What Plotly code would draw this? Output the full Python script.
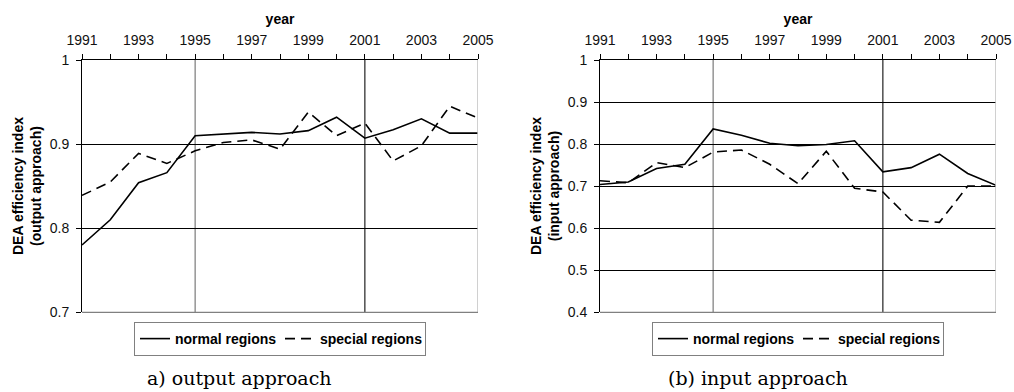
import plotly.graph_objects as go

years = list(range(1991, 2006))
out_normal = [0.780, 0.810, 0.854, 0.866, 0.910, 0.912, 0.914, 0.912, 0.916, 0.932, 0.907, 0.917, 0.930, 0.913, 0.913]
out_special = [0.839, 0.855, 0.889, 0.877, 0.892, 0.902, 0.905, 0.894, 0.938, 0.910, 0.925, 0.880, 0.898, 0.945, 0.931]
in_normal = [0.704, 0.710, 0.742, 0.752, 0.836, 0.821, 0.802, 0.796, 0.799, 0.808, 0.734, 0.744, 0.776, 0.730, 0.702]
in_special = [0.713, 0.708, 0.756, 0.744, 0.781, 0.786, 0.752, 0.706, 0.783, 0.695, 0.686, 0.619, 0.614, 0.700, 0.700]

year_ticks = years
year_labels = [str(y) if y % 2 == 1 else "" for y in years]
out_ticks = [0.7, 0.8, 0.9, 1.0]
out_labels = ["0.7", "0.8", "0.9", "1"]
in_ticks = [0.4, 0.5, 0.6, 0.7, 0.8, 0.9, 1.0]
in_labels = ["0.4", "0.5", "0.6", "0.7", "0.8", "0.9", "1"]
period_marks = [1995, 2001]

FONT = "Liberation Sans, Arial, sans-serif"
W, H = 1014, 392

def px(x):
    return x / W

def py(y):
    return 1 - y / H

ydom = [py(312.3), py(60)]
left_dom = [px(82), px(478)]
right_dom = [px(600), px(996)]

fig = go.Figure()
line_w = 1.6
fig.add_trace(go.Scatter(x=years, y=out_normal, mode="lines", name="<b>normal regions</b>",
                         line=dict(color="black", width=line_w), xaxis="x", yaxis="y", legend="legend"))
fig.add_trace(go.Scatter(x=years, y=out_special, mode="lines", name="<b>special regions</b>",
                         line=dict(color="black", width=line_w, dash="10px,6px"), xaxis="x", yaxis="y", legend="legend"))
fig.add_trace(go.Scatter(x=years, y=in_normal, mode="lines", name="<b>normal regions</b>",
                         line=dict(color="black", width=line_w), xaxis="x2", yaxis="y2", legend="legend2"))
fig.add_trace(go.Scatter(x=years, y=in_special, mode="lines", name="<b>special regions</b>",
                         line=dict(color="black", width=line_w, dash="10px,6px"), xaxis="x2", yaxis="y2", legend="legend2"))

def xax(dom, anchor):
    return dict(domain=dom, anchor=anchor, side="top", range=[1991, 2005], automargin=False,
                tickvals=year_ticks, ticktext=year_labels, ticks="outside", ticklen=5,
                tickcolor="black", showline=True, linecolor="black", linewidth=1,
                showgrid=False, zeroline=False, ticklabelstandoff=3,
                tickfont=dict(family=FONT, size=14, color="#111"),
                title=dict(text="<b>year</b>", font=dict(family=FONT, size=14, color="black"), standoff=4))

def yax(rng, tv, tt, anchor):
    return dict(domain=ydom, anchor=anchor, range=rng, tickvals=tv, ticktext=tt, automargin=False,
                ticks="outside", ticklen=5, tickcolor="black", showline=True, linecolor="black",
                linewidth=1, showgrid=True, gridcolor="black", gridwidth=1, zeroline=False,
                ticklabelstandoff=4, tickfont=dict(family=FONT, size=14, color="#111"))

shapes = []
for xr, yr in [("x", "y"), ("x2", "y2")]:
    for i, yv in enumerate(period_marks):
        shapes.append(dict(type="line", xref=xr, yref=f"{yr} domain", x0=yv, x1=yv, y0=0, y1=1,
                           line=dict(color="#7a7a7a" if i == 0 else "#222", width=1.2), layer="below"))
    shapes.append(dict(type="line", xref=xr, yref=f"{yr} domain", x0=2005, x1=2005, y0=0, y1=1,
                       line=dict(color="#c0c0c0", width=1.5), layer="above"))
    shapes.append(dict(type="line", xref=f"{xr} domain", yref=f"{yr} domain", x0=0, x1=1, y0=0, y1=0,
                       line=dict(color="#808080", width=1.2), layer="above"))

legend_common = dict(orientation="h", yanchor="middle", xanchor="center", y=py(339),
                     bgcolor="white", bordercolor="#808080", borderwidth=1,
                     font=dict(family=FONT, size=14, color="black"), itemwidth=30,
                     tracegroupgap=0, itemclick=False, entrywidth=100, entrywidthmode="pixels")

fig.update_layout(
    template="none",
    width=W, height=H, margin=dict(l=0, r=0, t=0, b=0, autoexpand=False),
    plot_bgcolor="white", paper_bgcolor="white",
    xaxis=xax(left_dom, "y"), yaxis=yax([0.7, 1.0], out_ticks, out_labels, "x"),
    xaxis2=xax(right_dom, "y2"), yaxis2=yax([0.4, 1.0], in_ticks, in_labels, "x2"),
    legend=dict(**legend_common, x=px(280)),
    legend2=dict(**legend_common, x=px(798)),
    shapes=shapes,
    annotations=[
        dict(text="<b>DEA efficiency index<br>(output approach)</b>", textangle=-90, x=px(27), y=py(186),
             xref="paper", yref="paper", showarrow=False, xanchor="center", yanchor="middle",
             font=dict(family=FONT, size=14, color="black")),
        dict(text="<b>DEA efficiency index<br>(input approach)</b>", textangle=-90, x=px(545), y=py(186),
             xref="paper", yref="paper", showarrow=False, xanchor="center", yanchor="middle",
             font=dict(family=FONT, size=14, color="black")),
        dict(text="a) output approach", x=px(239), y=py(378), xref="paper", yref="paper",
             showarrow=False, xanchor="center", yanchor="middle",
             font=dict(family="DejaVu Serif, serif", size=19, color="black")),
        dict(text="(b) input approach", x=px(758), y=py(378), xref="paper", yref="paper",
             showarrow=False, xanchor="center", yanchor="middle",
             font=dict(family="DejaVu Serif, serif", size=19, color="black")),
    ],
    showlegend=True,
)

fig.write_html("out.html", config={"displayModeBar": False},
               post_script="document.body.style.margin='0';document.body.style.overflow='hidden';")
